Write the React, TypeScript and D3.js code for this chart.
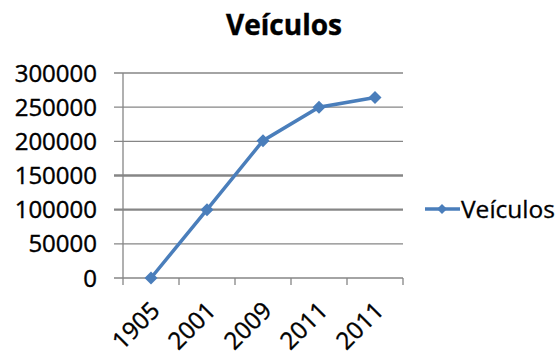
import React from "react";
import * as d3 from "d3";

const categories = ["1905", "2001", "2009", "2011", "2011"];
const values = [0, 100000, 201000, 250000, 264000];
const yTicks = [0, 50000, 100000, 150000, 200000, 250000, 300000];
const boldGrid = [100000, 150000];
const seriesName = "Veículos";
const title = "Veículos";

export default function App() {
  const W = 558, H = 356;
  const left = 123, right = 403, top = 73, bottom = 278;
  const x = d3.scaleBand<number>().domain(d3.range(categories.length)).range([left, right]);
  const y = d3.scaleLinear().domain([0, 300000]).range([bottom, top]);
  const line = d3.line<number>().x((_, i) => x(i)! + x.bandwidth() / 2).y((v) => y(v));
  const blue = "#4a7ebb";
  const grid = "#868686";
  const font = "'Open Sans', sans-serif";
  const diamond = (cx: number, cy: number, r: number) =>
    `M${cx},${cy - r}L${cx + r},${cy}L${cx},${cy + r}L${cx - r},${cy}Z`;
  const ticksX = d3.range(categories.length + 1).map((i) => left + i * x.bandwidth());
  return (
    <svg width={W} height={H} style={{ position: "absolute", left: 0, top: 0 }}>
      <rect width={W} height={H} fill="#fff" />
      <text x={284} y={35} textAnchor="middle" fontFamily={font} fontWeight="bold" fontSize={28} textLength={116} lengthAdjust="spacingAndGlyphs" stroke="#000" strokeWidth={0.4}>{title}</text>
      {yTicks.map((t) => (
        <g key={t}>
          <line x1={114} x2={right} y1={y(t)} y2={y(t)} stroke={grid} strokeWidth={boldGrid.includes(t) ? 2.4 : 1.3} />
          <text x={97} y={y(t)} dy="0.36em" textAnchor="end" fontFamily={font} fontSize={24} fill="#000" stroke="#000" strokeWidth={0.4}>{t}</text>
        </g>
      ))}
      <line x1={left} x2={left} y1={top} y2={bottom} stroke={grid} strokeWidth={1.3} />
      {ticksX.map((tx, i) => (
        <line key={i} x1={tx} x2={tx} y1={bottom} y2={bottom + 7} stroke={grid} strokeWidth={1.3} />
      ))}
      {categories.map((c, i) => {
        const cx = x(i)! + x.bandwidth() / 2 + 4;
        const cy = bottom + 28;
        return (
          <text key={i} x={cx} y={cy} textAnchor="end" fontFamily={font} fontSize={24} transform={`rotate(-45 ${cx} ${cy})`} dy="0.36em" stroke="#000" strokeWidth={0.4}>{c}</text>
        );
      })}
      <path d={line(values)!} fill="none" stroke={blue} strokeWidth={3.5} />
      {values.map((v, i) => (
        <path key={i} d={diamond(x(i)! + x.bandwidth() / 2, y(v), 6.5)} fill={blue} />
      ))}
      <line x1={425} x2={460} y1={209} y2={209} stroke={blue} strokeWidth={3.5} />
      <path d={diamond(442, 209, 5)} fill={blue} />
      <text x={461} y={209} dy="0.36em" fontFamily={font} fontSize={24} textLength={94} lengthAdjust="spacingAndGlyphs" stroke="#000" strokeWidth={0.3}>{seriesName}</text>
    </svg>
  );
}
